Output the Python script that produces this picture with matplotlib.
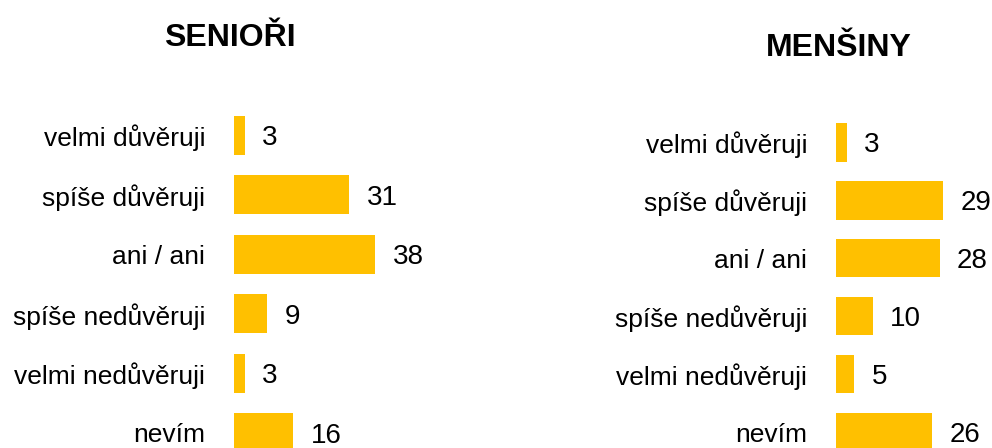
import matplotlib.pyplot as plt

categories = ["velmi důvěruji", "spíše důvěruji", "ani / ani",
              "spíše nedůvěruji", "velmi nedůvěruji", "nevím"]
seniori = [3, 31, 38, 9, 3, 16]
mensiny = [3, 29, 28, 10, 5, 26]
titles = ["SENIOŘI", "MENŠINY"]

W, H = 992, 448
plt.rcParams['font.family'] = ['Liberation Sans', 'DejaVu Sans']
fig = plt.figure(figsize=(W / 100, H / 100), dpi=100)

bar_color = "#FFC000"


def panel(x0, x1, first, step, values, title, title_x, title_y, scale):
    # axes placed in pixel terms, rows mapped so bars land where they should
    top, bottom = 100, H
    ax = fig.add_axes([x0 / W, 0, (x1 - x0) / W, (bottom - top) / H])
    ax.barh(range(len(values)), values, height=0.66, color=bar_color)
    ax.set_ylim((bottom - first) / step, (top - first) / step)
    ax.set_xlim(0, (x1 - x0) / scale)
    ax.set_yticks(range(len(categories)))
    ax.set_yticklabels(categories, fontsize=19, va="center_baseline")
    ax.tick_params(axis="y", length=0, pad=20.5)
    ax.set_xticks([])
    for s in ax.spines.values():
        s.set_visible(False)
    for i, v in enumerate(values):
        ax.annotate(str(v), (v, i), xytext=(12.5, 0), textcoords="offset points",
                    va="center_baseline", ha="left", fontsize=20)
    fig.text(title_x / W, 1 - title_y / H, title, fontsize=23, fontweight="bold",
             ha="center", va="baseline")
    return ax


panel(233.5, 560, 135.3, 59.5, seniori, titles[0], 230, 46, 3.73)
panel(835.7, 992, 142.5, 57.9, mensiny, titles[1], 839, 56, 3.71)

fig.savefig("out.png", dpi=100)
